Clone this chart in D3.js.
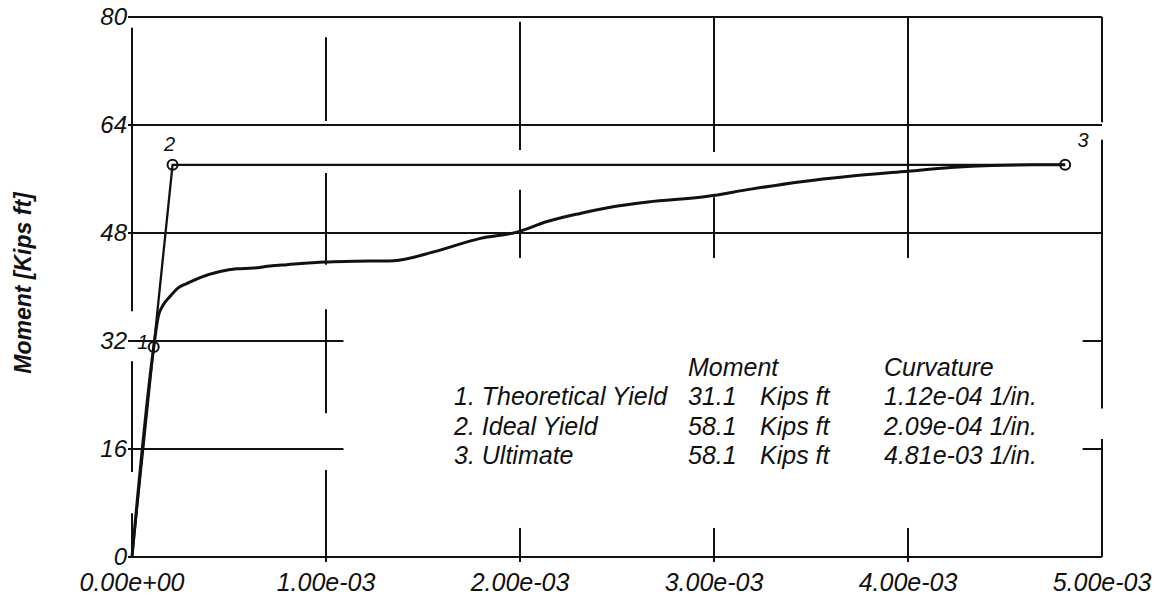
<!DOCTYPE html>
<html>
<head>
<meta charset="utf-8">
<script src="https://cdn.jsdelivr.net/npm/d3@7"></script>
<style>
  html, body { margin: 0; padding: 0; background: #fff; }
  svg { display: block; }
  text { font-family: "Liberation Sans", Arial, sans-serif; fill: #111; }
</style>
</head>
<body>
<svg id="chart" width="1164" height="597"></svg>
<script>
// ---- data ----
const curvature = [0, 1.12e-4, 1.36e-4, 1.6e-4, 1.96e-4, 2.4e-4, 2.82e-4, 3.51e-4, 4.54e-4, 5.4e-4, 6.26e-4, 7.12e-4, 7.98e-4, 9.96e-4, 1.142e-3, 1.348e-3, 1.555e-3, 1.796e-3, 1.98e-3, 2.14e-3, 2.31e-3, 2.48e-3, 2.66e-3, 2.96e-3, 3.19e-3, 3.45e-3, 3.7e-3, 3.98e-3, 4.22e-3, 4.43e-3, 4.65e-3, 4.81e-3];
const moment    = [0, 31.1, 35.7, 37.3, 38.6, 39.9, 40.5, 41.4, 42.3, 42.7, 42.8, 43.1, 43.3, 43.7, 43.8, 43.9, 45.2, 47.2, 48.1, 49.7, 50.9, 51.9, 52.6, 53.4, 54.5, 55.6, 56.4, 57.1, 57.7, 58.0, 58.1, 58.1];

const idealCurvature = [0, 2.09e-4, 4.81e-3];
const idealMoment    = [0, 58.1, 58.1];

const keyCurvature = [1.12e-4, 2.09e-4, 4.81e-3];
const keyMoment    = [31.1, 58.1, 58.1];
const keyLabels    = ["1", "2", "3"];

const xTicks = [0, 1e-3, 2e-3, 3e-3, 4e-3, 5e-3];
const xTickLabels = ["0.00e+00", "1.00e-03", "2.00e-03", "3.00e-03", "4.00e-03", "5.00e-03"];
const yTicks = [0, 16, 32, 48, 64, 80];
const yTickLabels = ["0", "16", "32", "48", "64", "80"];

// breaks in the printed vertical grid lines (moment ranges), one list per x tick
const xGridGaps = [
  [[80, 78.4], [36.4, 29.0], [12.6, 6.5]],
  [[80, 77.0], [64.6, 56.9], [43.3, 36.7], [21.3, 12.9]],
  [[80, 79.3], [60.3, 54.4]],
  [[60.0, 53.3]],
  [],
  [[64.4, 61.8], [22.0, 17.5]]
];

const legendNames   = ["1. Theoretical Yield", "2. Ideal Yield", "3. Ultimate"];
const legendMoments = ["31.1", "58.1", "58.1"];
const legendUnits   = ["Kips ft", "Kips ft", "Kips ft"];
const legendCurv    = ["1.12e-04 1/in.", "2.09e-04 1/in.", "4.81e-03 1/in."];
const legendHeaders = ["Moment", "Curvature"];
const yTitle = "Moment [Kips ft]";

// ---- layout ----
const svg = d3.select("#chart");
const x = d3.scaleLinear().domain([0, 5e-3]).range([132, 1102]);
const y = d3.scaleLinear().domain([0, 80]).range([557, 17]);
const ink = "#111";

// grid (horizontal)
const gGrid = svg.append("g");
gGrid.selectAll("line.h").data(yTicks).join("line")
  .attr("x1", x(0) - 4).attr("x2", x(5e-3))
  .attr("y1", d => y(d)).attr("y2", d => y(d))
  .attr("stroke", ink).attr("stroke-width", 2);

// grid (vertical) split into printed segments
function segmentsFor(gaps, lo, hi) {
  const segs = [];
  let top = hi;
  gaps.slice().sort((a, b) => b[0] - a[0]).forEach(g => {
    if (g[0] < top) segs.push([top, g[0]]);
    top = Math.min(top, g[1]);
  });
  if (top > lo) segs.push([top, lo]);
  return segs;
}
const vSegs = [];
xTicks.forEach((t, i) => {
  const lo = (i === 0 || i === xTicks.length - 1) ? 0 : y.invert(y(0) + 5);
  segmentsFor(xGridGaps[i], lo, 80).forEach(s => vSegs.push({ t, s }));
});
gGrid.selectAll("line.v").data(vSegs).join("line")
  .attr("x1", d => x(d.t)).attr("x2", d => x(d.t))
  .attr("y1", d => y(d.s[0])).attr("y2", d => y(d.s[1]))
  .attr("stroke", ink).attr("stroke-width", 2);

// legend box (white, blanks the grid)
const boxX0 = x(1.09e-3), boxX1 = x(4.9e-3), boxY0 = y(44.3), boxY1 = y(4.3);
svg.append("rect")
  .attr("x", boxX0).attr("y", boxY0)
  .attr("width", boxX1 - boxX0).attr("height", boxY1 - boxY0)
  .attr("fill", "#fff");

// y tick labels
svg.append("g").selectAll("text").data(yTicks).join("text")
  .attr("x", x(0) - 5).attr("y", d => y(d) + 8)
  .attr("text-anchor", "end")
  .attr("font-size", 24).attr("font-style", "italic")
  .text((d, i) => yTickLabels[i]);

// x tick labels
svg.append("g").selectAll("text").data(xTicks).join("text")
  .attr("x", d => x(d)).attr("y", 591)
  .attr("text-anchor", "middle")
  .attr("font-size", 25).attr("font-style", "italic")
  .text((d, i) => xTickLabels[i]);

// y title
svg.append("text")
  .attr("transform", "translate(31,283) rotate(-90)")
  .attr("text-anchor", "middle")
  .attr("font-size", 23).attr("font-style", "italic").attr("font-weight", "bold")
  .text(yTitle);

// curves
const line = d3.line().x(d => x(d[0])).y(d => y(d[1]));
svg.append("path")
  .datum(idealCurvature.map((c, i) => [c, idealMoment[i]]))
  .attr("d", line)
  .attr("fill", "none").attr("stroke", ink).attr("stroke-width", 2.3);
svg.append("path")
  .datum(curvature.map((c, i) => [c, moment[i]]))
  .attr("d", line.curve(d3.curveMonotoneX))
  .attr("fill", "none").attr("stroke", ink).attr("stroke-width", 3)
  .attr("stroke-linejoin", "round");

// key points
svg.append("g").selectAll("circle").data(keyCurvature).join("circle")
  .attr("cx", d => x(d)).attr("cy", (d, i) => y(keyMoment[i]))
  .attr("r", 5).attr("fill", "none").attr("stroke", ink).attr("stroke-width", 2);

const keyDx = [-11, -3, 18];
const keyDy = [2, -14, -18];
svg.append("g").selectAll("text").data(keyCurvature).join("text")
  .attr("x", (d, i) => x(d) + keyDx[i]).attr("y", (d, i) => y(keyMoment[i]) + keyDy[i])
  .attr("text-anchor", "middle")
  .attr("font-size", 20).attr("font-style", "italic")
  .text((d, i) => keyLabels[i]);

// legend text
const lg = svg.append("g").attr("font-size", 25).attr("font-style", "italic");
const colName = 454, colMom = 688, colUnit = 760, colCurv = 884;
const headerY = 376, rowY0 = 405, rowStep = 29.5;
lg.append("text").attr("x", colMom).attr("y", headerY).text(legendHeaders[0]);
lg.append("text").attr("x", colCurv).attr("y", headerY).text(legendHeaders[1]);
legendNames.forEach((n, i) => {
  const yy = rowY0 + i * rowStep;
  lg.append("text").attr("x", colName).attr("y", yy).text(n);
  lg.append("text").attr("x", colMom).attr("y", yy).text(legendMoments[i]);
  lg.append("text").attr("x", colUnit).attr("y", yy).text(legendUnits[i]);
  lg.append("text").attr("x", colCurv).attr("y", yy).text(legendCurv[i]);
});
</script>
</body>
</html>
